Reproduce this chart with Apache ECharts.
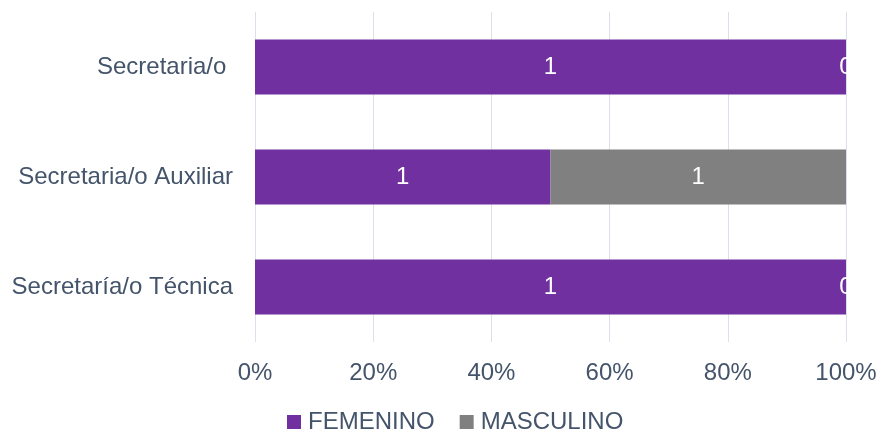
<!DOCTYPE html>
<html>
<head>
<meta charset="utf-8">
<script src="https://cdn.jsdelivr.net/npm/echarts@6/dist/echarts.min.js"></script>
<style>
  html, body { margin: 0; padding: 0; background: #ffffff; }
  #chart { width: 881px; height: 433px; }
</style>
</head>
<body>
<div id="chart"></div>
<script>
// Cargos listed bottom-to-top on the category axis
const categories = ['Secretaría/o Técnica', 'Secretaria/o Auxiliar', 'Secretaria/o '];
const femenino = [1, 1, 1];
const masculino = [0, 1, 0];
const seriesNames = ['FEMENINO', 'MASCULINO'];
const xTicks = [0, 20, 40, 60, 80, 100];

const totals = categories.map((_, i) => femenino[i] + masculino[i]);
const pct = (arr) => arr.map((v, i) => ({ value: totals[i] ? v / totals[i] * 100 : 0, count: v }));

const textColor = '#44546a';
const font = 'Liberation Sans, Arial, sans-serif';
const fs = 24;

const chart = echarts.init(document.getElementById('chart'));
chart.setOption({
  animation: false,
  grid: { left: 255, right: 35, top: 12, bottom: 91, containLabel: false },
  legend: {
    data: seriesNames,
    bottom: -6,
    left: 282,
    itemWidth: 14,
    itemHeight: 14,
    itemGap: 25,
    icon: 'rect',
    textStyle: { color: textColor, fontSize: fs, fontFamily: font, padding: [0, 0, 0, 2] }
  },
  xAxis: {
    type: 'value',
    min: xTicks[0],
    max: xTicks[xTicks.length - 1],
    interval: 20,
    axisLine: { show: false },
    axisTick: { show: false },
    axisLabel: { color: textColor, fontSize: fs, fontFamily: font, margin: 19, formatter: '{value}%' },
    splitLine: { show: true, lineStyle: { color: '#dde0ea', width: 1 } }
  },
  yAxis: {
    type: 'category',
    data: categories,
    axisLine: { show: false },
    axisTick: { show: false },
    axisLabel: { color: textColor, fontSize: fs, fontFamily: font, margin: 22 }
  },
  series: [
    {
      name: seriesNames[0],
      type: 'bar',
      stack: 'total',
      barCategoryGap: '50%',
      itemStyle: { color: '#7030a0' },
      label: { show: true, position: 'inside', color: '#ffffff', fontSize: fs, fontFamily: font,
               formatter: (p) => String(p.data.count) },
      data: pct(femenino)
    },
    {
      name: seriesNames[1],
      type: 'bar',
      stack: 'total',
      barCategoryGap: '50%',
      itemStyle: { color: '#808080' },
      label: { show: true, position: 'inside', color: '#ffffff', fontSize: fs, fontFamily: font,
               formatter: (p) => String(p.data.count) },
      data: pct(masculino)
    }
  ]
});
</script>
</body>
</html>
